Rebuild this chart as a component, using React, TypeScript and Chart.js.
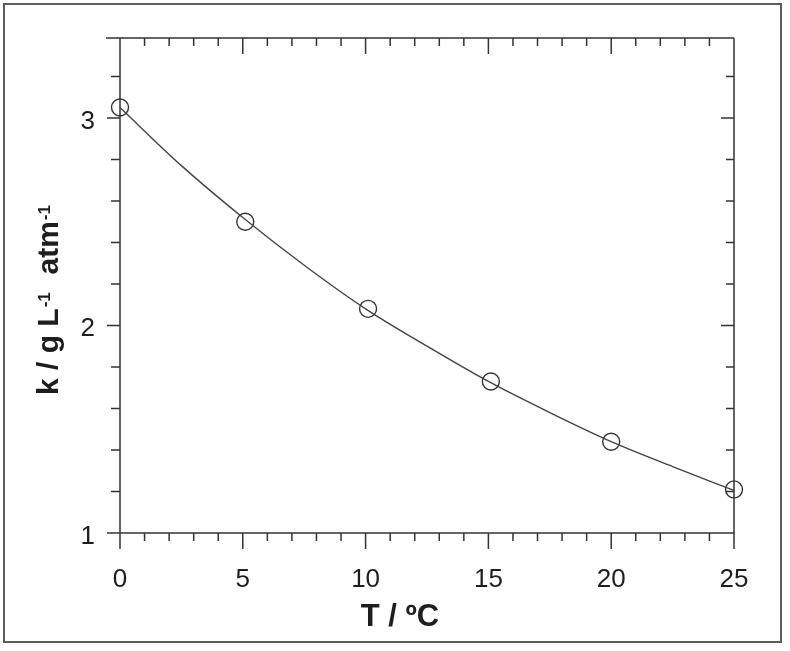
import React, { useEffect, useRef } from "react";
import { Chart, registerables } from "chart.js";

Chart.register(...registerables);

// Measured data (temperature in °C, k in g L^-1 atm^-1)
const tempPoints = [0, 5.1, 10.1, 15.1, 20, 25];
const kPoints = [3.05, 2.5, 2.08, 1.73, 1.44, 1.21];

// Fitted curve
const fitT = [0, 2.5, 5, 7.5, 10, 12.5, 15, 17.5, 20, 22.5, 25];
const fitK = [3.05, 2.77, 2.52, 2.29, 2.08, 1.9, 1.73, 1.58, 1.44, 1.32, 1.205];

// Axis ticks
const xMajorTicks = [0, 5, 10, 15, 20, 25];
const xTickLabels = ["0", "5", "10", "15", "20", "25"];
const xMinorTicks = [1, 2, 3, 4, 6, 7, 8, 9, 11, 12, 13, 14, 16, 17, 18, 19, 21, 22, 23, 24];
const yMajorTicks = [1, 2, 3];
const yTickLabels = ["1", "2", "3"];
const yMinorTicks = [1.2, 1.4, 1.6, 1.8, 2.2, 2.4, 2.6, 2.8, 3.2];

const X_MIN = 0;
const X_MAX = 25;
const Y_MIN = 1;
const Y_MAX = 3.385;

const xTitle = "T / ºC";
const yTitleParts = ["k / g L", "-1", "  atm", "-1"];

const FONT_FAMILY = '"Liberation Sans", Arial, Helvetica, sans-serif';

const axesPlugin = {
  id: "sigmaAxes",
  beforeDatasetsDraw(chart: any) {
    const { ctx, chartArea: a, scales } = chart;
    const xs = scales.x;
    const ys = scales.y;
    ctx.save();

    // outer frame
    ctx.strokeStyle = "#5c5c5c";
    ctx.lineWidth = 2;
    ctx.strokeRect(4, 4, 777, 638);

    // axis lines
    ctx.strokeStyle = "#333333";
    ctx.lineWidth = 1.5;
    ctx.lineCap = "butt";
    ctx.beginPath();
    ctx.moveTo(a.left, a.top);
    ctx.lineTo(a.left, a.bottom);
    ctx.moveTo(a.right, a.top);
    ctx.lineTo(a.right, a.bottom);
    ctx.moveTo(a.left - 14, a.top);
    ctx.lineTo(a.right, a.top);
    ctx.moveTo(a.left, a.bottom);
    ctx.lineTo(a.right, a.bottom);

    // x ticks (bottom outward, top inward)
    xMajorTicks.forEach((v) => {
      const px = xs.getPixelForValue(v);
      ctx.moveTo(px, a.bottom);
      ctx.lineTo(px, a.bottom + 16);
      ctx.moveTo(px, a.top);
      ctx.lineTo(px, a.top + 16);
    });
    xMinorTicks.forEach((v) => {
      const px = xs.getPixelForValue(v);
      ctx.moveTo(px, a.bottom);
      ctx.lineTo(px, a.bottom + 8);
      ctx.moveTo(px, a.top);
      ctx.lineTo(px, a.top + 8);
    });
    // y ticks (left outward, right inward)
    yMajorTicks.forEach((v) => {
      const py = ys.getPixelForValue(v);
      ctx.moveTo(a.left - 13, py);
      ctx.lineTo(a.left, py);
      ctx.moveTo(a.right - 13, py);
      ctx.lineTo(a.right, py);
    });
    yMinorTicks.forEach((v) => {
      const py = ys.getPixelForValue(v);
      ctx.moveTo(a.left - 9, py);
      ctx.lineTo(a.left, py);
      ctx.moveTo(a.right - 8, py);
      ctx.lineTo(a.right, py);
    });
    ctx.stroke();

    // tick labels
    ctx.fillStyle = "#1e1e1e";
    ctx.font = `26px ${FONT_FAMILY}`;
    ctx.textBaseline = "alphabetic";
    ctx.textAlign = "center";
    xMajorTicks.forEach((v, i) => {
      const px = xs.getPixelForValue(v);
      ctx.fillText(xTickLabels[i], px, a.bottom + 54);
    });
    ctx.textAlign = "right";
    yMajorTicks.forEach((v, i) => {
      const py = ys.getPixelForValue(v);
      ctx.fillText(yTickLabels[i], a.left - 25, py + 11);
    });

    // x title
    ctx.font = `bold 31px ${FONT_FAMILY}`;
    ctx.textAlign = "center";
    ctx.fillText(xTitle, 400, 626);

    // y title (rotated, with superscripts)
    ctx.save();
    ctx.translate(58, 395);
    ctx.rotate(-Math.PI / 2);
    ctx.textAlign = "left";
    let cx = 0;
    yTitleParts.forEach((part, i) => {
      const sup = i % 2 === 1;
      ctx.font = sup ? `bold 17px ${FONT_FAMILY}` : `bold 30px ${FONT_FAMILY}`;
      ctx.fillText(part, cx, sup ? -8 : 0);
      cx += ctx.measureText(part).width + (sup ? 1 : 1);
    });
    ctx.restore();

    ctx.restore();
  },
};

export default function App() {
  const canvasRef = useRef<HTMLCanvasElement | null>(null);

  useEffect(() => {
    const canvas = canvasRef.current;
    if (!canvas) return;
    const chart = new Chart(canvas, {
      type: "scatter",
      data: {
        datasets: [
          {
            label: "fit",
            data: fitT.map((t, i) => ({ x: t, y: fitK[i] })),
            showLine: true,
            borderColor: "#444444",
            borderWidth: 1.4,
            pointRadius: 0,
            cubicInterpolationMode: "monotone",
            fill: false,
            clip: false as any,
          } as any,
          {
            label: "k",
            data: tempPoints.map((t, i) => ({ x: t, y: kPoints[i] })),
            showLine: false,
            borderColor: "#333333",
            backgroundColor: "rgba(0,0,0,0)",
            borderWidth: 1.4,
            pointRadius: 8.5,
            pointStyle: "circle",
            clip: false as any,
          } as any,
        ],
      },
      options: {
        animation: false,
        responsive: false,
        maintainAspectRatio: false,
        layout: { padding: { left: 120, right: 56, top: 38, bottom: 118 } },
        plugins: {
          legend: { display: false },
          tooltip: { enabled: false },
        },
        scales: {
          x: { type: "linear", min: X_MIN, max: X_MAX, display: false },
          y: { type: "linear", min: Y_MIN, max: Y_MAX, display: false },
        },
      },
      plugins: [axesPlugin],
    });
    return () => chart.destroy();
  }, []);

  return (
    <div style={{ position: "fixed", left: 0, top: 0, width: 790, height: 651, background: "#ffffff" }}>
      <canvas ref={canvasRef} width={790} height={651} style={{ width: 790, height: 651, display: "block" }} />
    </div>
  );
}
